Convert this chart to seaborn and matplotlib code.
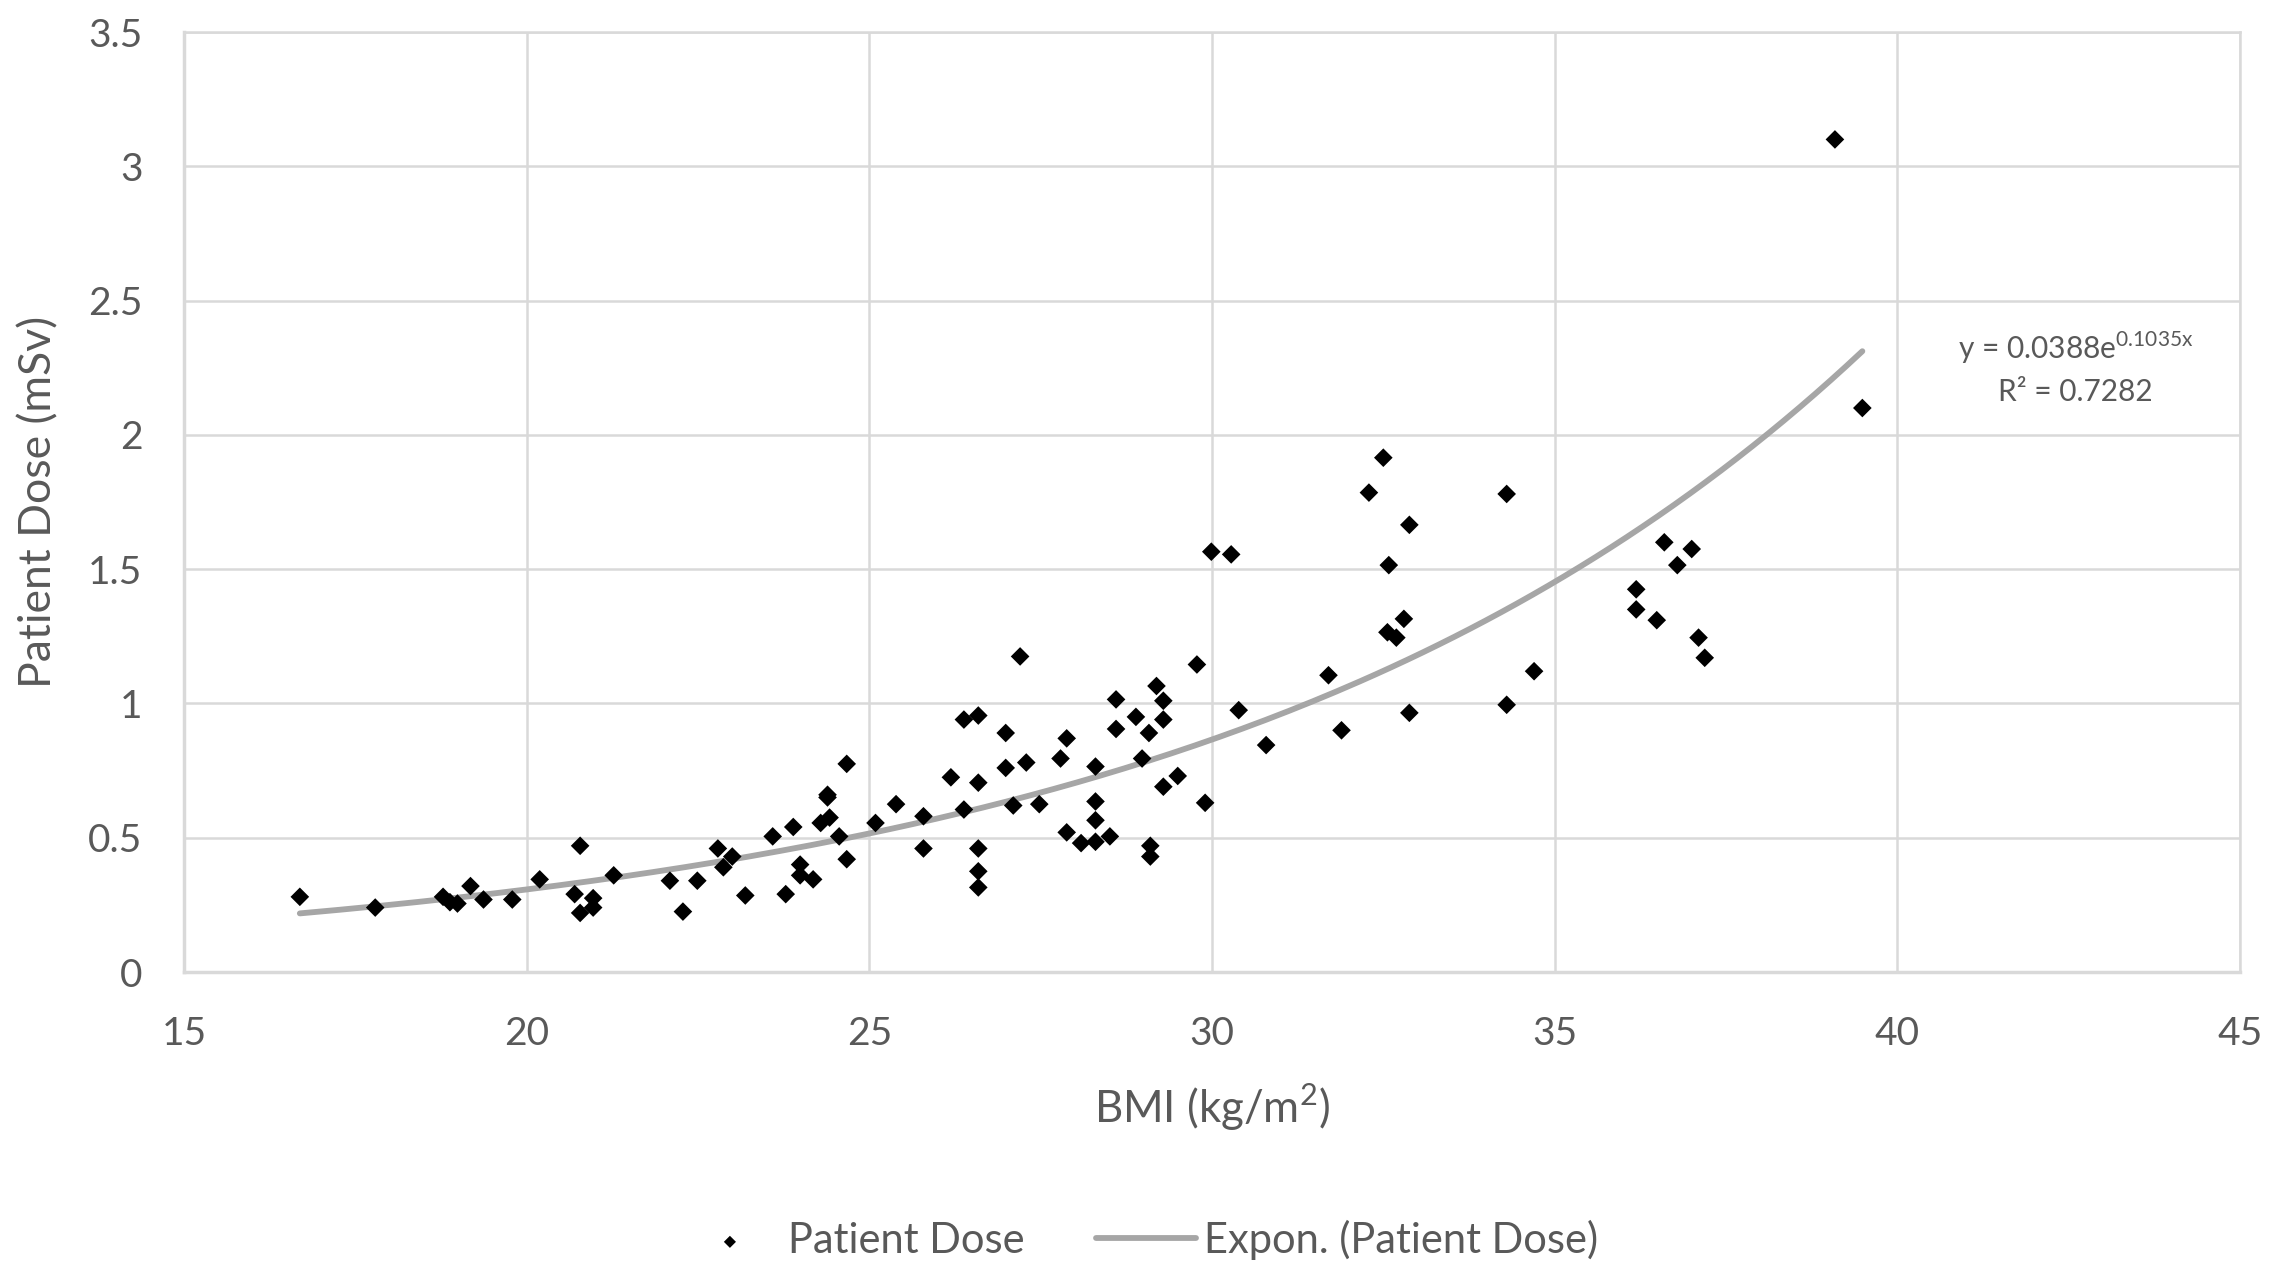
import numpy as np
import pandas as pd
import matplotlib
matplotlib.use('Agg')
import matplotlib.pyplot as plt
import seaborn as sns

# BMI (kg/m2) and patient dose (mSv)
bmi = [16.69, 17.79, 18.78, 18.88, 18.99, 19.18, 19.37, 19.79, 20.19, 20.70,
       20.78, 20.78, 20.97, 20.97, 21.27, 22.09, 22.28, 22.49, 22.79, 22.87,
       23.00, 23.19, 23.59, 23.78, 23.89, 23.99, 23.99, 24.18, 24.29, 24.42,
       24.39, 24.39, 24.56, 24.67, 24.67, 25.09, 25.39, 25.79, 25.79, 26.19,
       26.38, 26.38, 26.59, 26.59, 26.59, 26.59, 26.59, 26.99, 26.99, 27.10,
       27.20, 27.29, 27.48, 27.79, 27.88, 27.88, 28.09, 28.30, 28.30, 28.30,
       28.30, 28.51, 28.60, 28.60, 28.89, 28.98, 29.08, 29.10, 29.10, 29.19,
       29.29, 29.29, 29.29, 29.50, 29.78, 29.90, 29.99, 30.28, 30.39, 30.79,
       31.70, 31.89, 32.29, 32.50, 32.58, 32.56, 32.69, 32.80, 32.88, 32.88,
       34.30, 34.30, 34.70, 36.19, 36.19, 36.49, 36.60, 36.79, 37.00, 37.10,
       37.19, 39.09, 39.49]
dose = [0.28, 0.24, 0.28, 0.26, 0.255, 0.32, 0.27, 0.27, 0.345, 0.29,
        0.47, 0.22, 0.275, 0.24, 0.36, 0.34, 0.225, 0.34, 0.46, 0.39,
        0.43, 0.285, 0.505, 0.29, 0.54, 0.40, 0.36, 0.345, 0.555, 0.575,
        0.66, 0.65, 0.505, 0.42, 0.775, 0.555, 0.625, 0.58, 0.46, 0.725,
        0.94, 0.605, 0.955, 0.705, 0.46, 0.375, 0.315, 0.89, 0.76, 0.62,
        1.175, 0.78, 0.625, 0.795, 0.87, 0.52, 0.48, 0.765, 0.635, 0.565,
        0.485, 0.505, 1.015, 0.905, 0.95, 0.795, 0.89, 0.47, 0.43, 1.065,
        1.01, 0.94, 0.69, 0.73, 1.145, 0.63, 1.565, 1.555, 0.975, 0.845,
        1.105, 0.90, 1.785, 1.915, 1.515, 1.265, 1.245, 1.315, 1.665, 0.965,
        1.78, 0.995, 1.12, 1.425, 1.35, 1.31, 1.60, 1.515, 1.575, 1.245,
        1.17, 3.10, 2.10]

# exponential trendline from the chart's label
trend_a = 0.0388
trend_b = 0.1035
r_squared = 0.7282

df = pd.DataFrame({'BMI': bmi, 'Dose': dose})

sns.set_style('white')
plt.rcParams['font.family'] = ['Lato', 'DejaVu Sans']
plt.rcParams['mathtext.fontset'] = 'custom'
plt.rcParams['mathtext.rm'] = 'Lato'
text_col = '#595959'
grid_col = '#d9d9d9'

fig = plt.figure(figsize=(22.69, 12.65), dpi=100)
ax = fig.add_axes([0.0811, 0.2316, 0.9061, 0.7431])

trend_x = np.linspace(min(bmi), max(bmi), 200)
trend = pd.DataFrame({'BMI': trend_x, 'Dose': trend_a * np.exp(trend_b * trend_x)})

sns.lineplot(data=trend, x='BMI', y='Dose', ax=ax, color='#a6a6a6', linewidth=4.2,
             label='Expon. (Patient Dose)', zorder=2)
sns.scatterplot(data=df, x='BMI', y='Dose', ax=ax, marker='D', color='black', s=90,
                edgecolor='none', label='Patient Dose', zorder=3)

ax.set_xlim(15, 45)
ax.set_ylim(0, 3.5)
ax.set_xticks(range(15, 46, 5))
ax.set_yticks([0, 0.5, 1, 1.5, 2, 2.5, 3, 3.5])
ax.set_yticklabels(['0', '0.5', '1', '1.5', '2', '2.5', '3', '3.5'])
ax.grid(True, color=grid_col, linewidth=1.8)
ax.set_axisbelow(True)
for sp in ax.spines.values():
    sp.set_color(grid_col)
    sp.set_linewidth(1.8)
ax.spines['bottom'].set_linewidth(2.5)
ax.spines['left'].set_linewidth(2.5)
ax.tick_params(axis='both', length=0, labelsize=28, labelcolor=text_col)
ax.tick_params(axis='y', pad=30)
ax.tick_params(axis='x', pad=32)

ax.set_xlabel('BMI (kg/m$^{2}$)', fontsize=31.5, color=text_col)
ax.set_ylabel('Patient Dose (mSv)', fontsize=32, color=text_col)
ax.xaxis.set_label_coords(0.5, -0.1436)
ax.xaxis.label.set_va('center')
ax.yaxis.set_label_coords(-0.0705, 0.5)
ax.yaxis.label.set_va('center')

ax.text(42.6, 2.25, 'y = 0.0388e$^{\\mathrm{0.1035x}}$\nR² = ' + str(r_squared),
        ha='center', va='center', fontsize=21.5, color=text_col, linespacing=1.5)

handles, labels = ax.get_legend_handles_labels()
order = [labels.index('Patient Dose'), labels.index('Expon. (Patient Dose)')]
leg = fig.legend([handles[i] for i in order], [labels[i] for i in order],
                 loc='center', bbox_to_anchor=(0.502, 0.02), ncol=2, frameon=False,
                 fontsize=30, handlelength=2.4, handletextpad=0.2, columnspacing=1.7,
                 markerscale=0.65)
for t in leg.get_texts():
    t.set_color(text_col)
ax.get_legend().remove()

fig.savefig('out.png', dpi=100)
